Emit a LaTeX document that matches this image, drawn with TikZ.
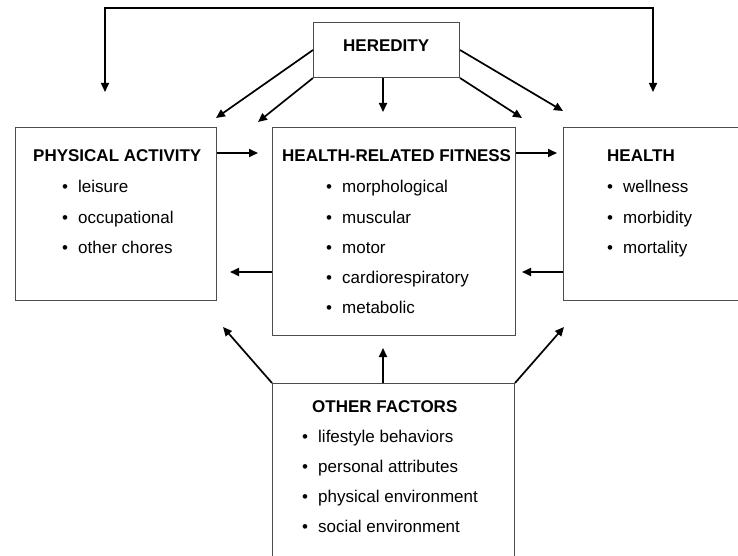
\documentclass[tikz,border=0pt]{standalone}
\usepackage{fontspec}
\setmainfont{Liberation Sans}
\usetikzlibrary{arrows.meta}
\newcommand{\bul}{\makebox[16pt][l]{\textbullet}}

\begin{document}
\begin{tikzpicture}[
    x=1pt, y=-1pt,
    font=\fontsize{17}{20}\selectfont,
    box/.style={draw=black!70, line width=1pt, anchor=north west, inner sep=0pt},
    head/.style={anchor=base west, inner sep=0pt, font=\fontsize{17}{20}\selectfont\bfseries},
    item/.style={anchor=base west, inner sep=0pt},
    arr/.style={-{Triangle[length=9pt, width=8pt]}, line width=1.7pt},
    dbl/.style={{Triangle[length=9pt, width=8pt]}-{Triangle[length=9pt, width=8pt]}, line width=1.5pt}]

  \useasboundingbox (0,0) rectangle (738,556);
  \clip (0,0) rectangle (738,556);

  % ---- boxes ----
  \node[box, minimum width=146pt, minimum height=55pt]  (hered) at (313,22)  {};
  \node[box, minimum width=201pt, minimum height=173pt] (pa)    at (15,127)  {};
  \node[box, minimum width=243pt, minimum height=208pt] (hrf)   at (272,127) {};
  \node[box, minimum width=200pt, minimum height=173pt] (hlth)  at (563,127) {};
  \node[box, minimum width=242pt, minimum height=200pt] (oth)   at (272,383) {};

  % ---- texts ----
  \node[head] (heredt) at (343,52)  {HEREDITY};
  \node[head] (pat)    at (33,162)  {PHYSICAL ACTIVITY};
  \node[head] (hrft)   at (282,162) {HEALTH-RELATED FITNESS};
  \node[head] (hlthlt) at (607,162) {HEALTH};
  \node[head] (otht)   at (312,412) {OTHER FACTORS};

  \foreach \t [count=\i] in {leisure, occupational, other chores}
    \node[item] (pa\i) at (62,163+30*\i) {\bul\t};
  \foreach \t [count=\i] in {morphological, muscular, motor, cardiorespiratory, metabolic}
    \node[item] (hrf\i) at (326,163+30*\i) {\bul\t};
  \foreach \t [count=\i] in {wellness, morbidity, mortality}
    \node[item] (hlth\i) at (607,163+30*\i) {\bul\t};
  \foreach \t [count=\i] in {lifestyle behaviors, personal attributes,
                            physical environment, social environment}
    \node[item] (oth\i) at (302,412+30*\i) {\bul\t};

  % ---- free arrow ends ----
  \coordinate (hpa)  at (216,118);
  \coordinate (hhl)  at (258,122);
  \coordinate (hhm)  at (383,112);
  \coordinate (hhr)  at (522,118);
  \coordinate (hhe)  at (563,111);
  \coordinate (pah)  at (258,153);
  \coordinate (hrfh) at (557,153);
  \coordinate (hrfp) at (230,272);
  \coordinate (hlh)  at (522,272);
  \coordinate (ohm)  at (383,348);
  \coordinate (opa)  at (223,327);
  \coordinate (ohl)  at (564,327);
  \coordinate (tpa)  at (105,92);
  \coordinate (thl)  at (653,92);
  \coordinate (tl)   at (105,8);
  \coordinate (tr)   at (653,8);

  % heredity
  \draw[arr] (hered.west) -- (hpa);
  \draw[arr] (hered.south west) -- (hhl);
  \draw[arr] (hered.south -| hhm) -- (hhm);
  \draw[arr] (hered.south east) -- (hhr);
  \draw[arr] (hered.east) -- (hhe);

  % between the three boxes
  \draw[arr] (pa.east |- pah) -- (pah);
  \draw[arr] (hrf.east |- hrfh) -- (hrfh);
  \draw[arr] (hrf.west |- hrfp) -- (hrfp);
  \draw[arr] (hlth.west |- hlh) -- (hlh);

  % other factors
  \draw[arr] (oth.north -| ohm) -- (ohm);
  \draw[arr] (oth.north west) -- (opa);
  \draw[arr] (oth.north east) -- (ohl);

  % loop over the top
  \draw[dbl] (tpa) -- (tl) -- (tr) -- (thl);
\end{tikzpicture}
\end{document}
